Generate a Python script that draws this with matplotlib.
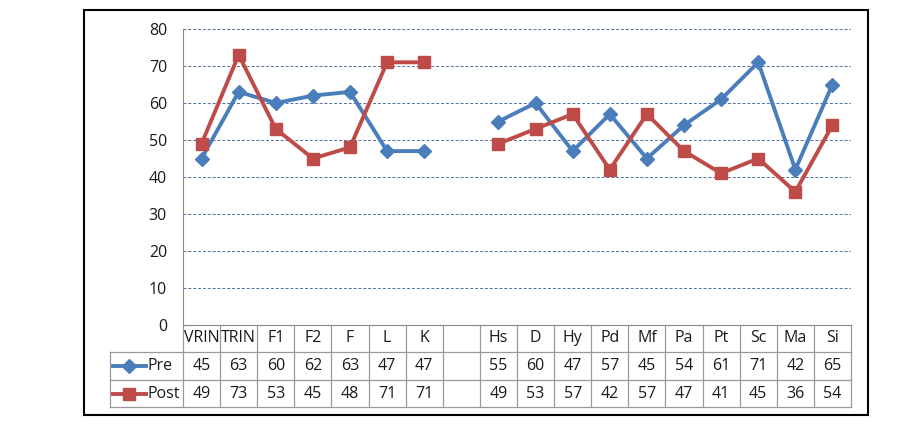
import numpy as np
import matplotlib
matplotlib.use("Agg")
import matplotlib.pyplot as plt
from matplotlib.transforms import blended_transform_factory
from matplotlib.lines import Line2D
from matplotlib.patches import Rectangle

categories = ["VRIN", "TRIN", "F1", "F2", "F", "L", "K", "",
              "Hs", "D", "Hy", "Pd", "Mf", "Pa", "Pt", "Sc", "Ma", "Si"]
pre = [45, 63, 60, 62, 63, 47, 47, np.nan, 55, 60, 47, 57, 45, 54, 61, 71, 42, 65]
post = [49, 73, 53, 45, 48, 71, 71, np.nan, 49, 53, 57, 42, 57, 47, 41, 45, 36, 54]
series = [("Pre", pre, "#4A7EBB", "D", 7), ("Post", post, "#BE4B48", "s", 8)]
yticks = [0, 10, 20, 30, 40, 50, 60, 70, 80]

plt.rcParams['font.family'] = ['Open Sans', 'DejaVu Sans']
W, H = 899, 433
fig = plt.figure(figsize=(W / 100, H / 100), dpi=100)

# outer chart border
fig.patches.append(Rectangle((84 / W, 1 - 415 / H), (868 - 84) / W, (415 - 10) / H,
                             transform=fig.transFigure, fill=False,
                             edgecolor="black", linewidth=1.5))

ax_l, ax_r, ax_t, ax_b = 183, 851, 29, 325
ax = fig.add_axes([ax_l / W, 1 - ax_b / H, (ax_r - ax_l) / W, (ax_b - ax_t) / H])
x = np.arange(len(categories))
for name, vals, col, mk, ms in series:
    ax.plot(x, vals, color=col, lw=2.8, marker=mk, markersize=ms, zorder=3)

fs = 11.5
ax.set_xlim(-0.5, len(categories) - 0.5)
ax.set_ylim(0, 80)
ax.set_yticks(yticks)
ax.set_xticks([])
ax.tick_params(axis="y", length=0, pad=11.5, labelsize=fs, labelcolor="#1a1a1a")
for y in yticks[1:]:
    ax.axhline(y, color="#4F6FA0", lw=0.7, ls=(0, (3, 2)), zorder=1)
for s in ["top", "right"]:
    ax.spines[s].set_visible(False)
ax.spines["left"].set_color("#888888")
ax.spines["bottom"].set_color("#888888")

# data table below the axes
tr = blended_transform_factory(ax.transData, ax.transAxes)
ah = ax_b - ax_t
def ay(py):
    return (ax_b - py) / ah

row_y = [325, 352, 380, 407]
grid_kw = dict(color="#999999", lw=0.9, clip_on=False)
for py in row_y[1:]:
    ax.plot([-0.5 - 73 / 37.1, len(categories) - 0.5], [ay(py)] * 2, transform=tr, **grid_kw)
for i in range(len(categories) + 1):
    ax.plot([i - 0.5] * 2, [ay(325), ay(407)], transform=tr, **grid_kw)
ax.plot([-0.5 - 73 / 37.1] * 2, [ay(352), ay(407)], transform=tr, **grid_kw)

for i, c in enumerate(categories):
    ax.text(i, ay(338.5), c, transform=tr, ha="center", va="center", fontsize=fs,
            color="#1a1a1a", clip_on=False)
for r, (name, vals, col, mk, ms) in enumerate(series):
    yc = ay(366 + 27.5 * r)
    for i, v in enumerate(vals):
        if not np.isnan(v):
            ax.text(i, yc, f"{v:.0f}", transform=tr, ha="center", va="center", fontsize=fs,
                    color="#1a1a1a", clip_on=False)
    x0 = -0.5 - 70 / 37.1
    x1 = -0.5 - 37 / 37.1
    ax.add_line(Line2D([x0, x1], [yc, yc], transform=tr, color=col, lw=2.8, clip_on=False))
    ax.add_line(Line2D([(x0 + x1) / 2], [yc], transform=tr, color=col, marker=mk,
                       markersize=ms, clip_on=False))
    ax.text(-0.5 - 35 / 37.1, yc, name, transform=tr, ha="left", va="center", fontsize=fs,
            color="#1a1a1a", clip_on=False)

fig.savefig("out.png", dpi=100)
